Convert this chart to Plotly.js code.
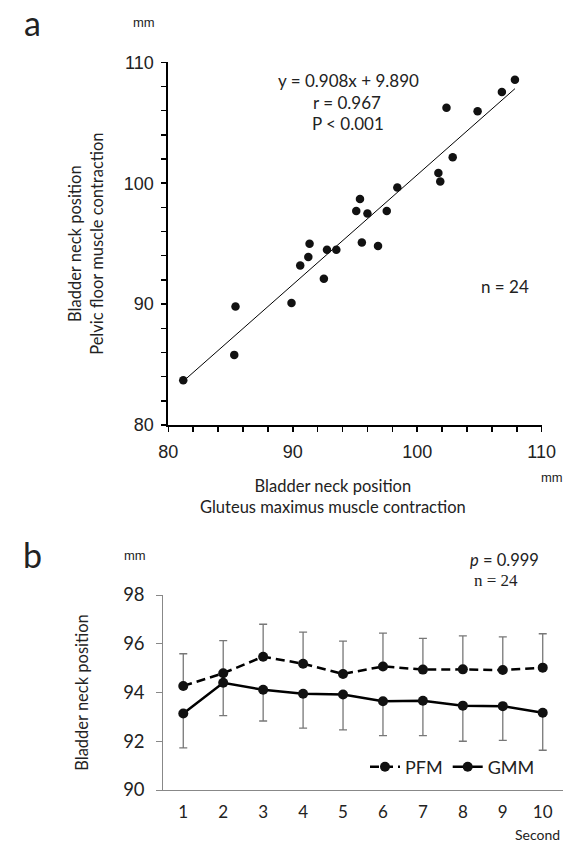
<!DOCTYPE html>
<html><head><meta charset="utf-8">
<script src="https://cdn.plot.ly/plotly-3.0.1.min.js"></script>
<style>html,body{margin:0;padding:0;background:#fff}#chart{width:564px;height:843px}</style>
</head><body><div id="chart"></div>
<script>
// Panel a: bladder neck position (mm)
const gmmContraction = [81.2, 85.3, 85.4, 89.9, 90.6, 91.25, 91.35, 92.5, 92.75, 93.5, 95.1, 95.4, 95.55, 96.0, 96.85, 97.55, 98.4, 101.7, 101.85, 102.35, 102.85, 104.85, 106.8, 107.85];
const pfmContraction = [83.7, 85.8, 89.8, 90.1, 93.2, 93.9, 95.0, 92.1, 94.5, 94.5, 97.7, 98.7, 95.1, 97.5, 94.8, 97.7, 99.65, 100.85, 100.15, 106.25, 102.15, 105.95, 107.55, 108.55];
const regSlope = [0.908];
const regIntercept = [9.890];

// Panel b: bladder neck position over time
const seconds = [1, 2, 3, 4, 5, 6, 7, 8, 9, 10];
const pfmMean = [94.27, 94.79, 95.47, 95.18, 94.76, 95.07, 94.94, 94.95, 94.92, 95.02];
const pfmSD   = [1.32, 1.34, 1.33, 1.30, 1.35, 1.37, 1.28, 1.37, 1.36, 1.39];
const gmmMean = [93.14, 94.40, 94.11, 93.95, 93.92, 93.64, 93.66, 93.46, 93.44, 93.17];
const gmmSD   = [1.41, 1.35, 1.28, 1.41, 1.45, 1.41, 1.43, 1.46, 1.40, 1.54];

const W = 564, H = 843;
const px = v => v / W;
const py = v => 1 - v / H;
const SANS = 'Lato, "Open Sans", sans-serif';
const ARIAL = '"Liberation Sans", Arial, sans-serif';
const SERIF = '"Liberation Serif", "Times New Roman", serif';
const TXT = '#222';

const xMin = Math.min(...gmmContraction), xMax = Math.max(...gmmContraction);
const regX = [xMin, xMax];
const regY = regX.map(x => regSlope[0] * x + regIntercept[0]);
const zeros = seconds.map(() => 0);

const traces = [
  {x: regX, y: regY, xaxis: 'x', yaxis: 'y', mode: 'lines', line: {color: '#000', width: 1}, showlegend: false, hoverinfo: 'skip'},
  {x: gmmContraction, y: pfmContraction, xaxis: 'x', yaxis: 'y', mode: 'markers', marker: {color: '#111', size: 8.5}, showlegend: false},
  {x: seconds, y: pfmMean, xaxis: 'x2', yaxis: 'y2', name: 'PFM', mode: 'lines+markers',
   line: {color: '#000', width: 2.5, dash: '9px,5px'}, marker: {color: '#111', size: 10},
   error_y: {type: 'data', symmetric: false, array: pfmSD, arrayminus: zeros, color: '#777', thickness: 1.3, width: 4}},
  {x: seconds, y: gmmMean, xaxis: 'x2', yaxis: 'y2', name: 'GMM', mode: 'lines+markers',
   line: {color: '#000', width: 2.5}, marker: {color: '#111', size: 10},
   error_y: {type: 'data', symmetric: false, array: zeros, arrayminus: gmmSD, color: '#777', thickness: 1.3, width: 4}}
];

function note(text, x, y, size, family, xanchor) {
  return {text: text, x: px(x), y: py(y), xref: 'paper', yref: 'paper', xanchor: xanchor || 'center', yanchor: 'middle',
          showarrow: false, font: {family: family || SANS, size: size, color: TXT}};
}

const layout = {
  width: W, height: H,
  margin: {l: 0, r: 0, t: 0, b: 0},
  paper_bgcolor: '#fff', plot_bgcolor: 'rgba(0,0,0,0)',
  showlegend: true,
  font: {family: SANS, color: TXT},
  xaxis: {
    domain: [px(168.3), px(541.7)], range: [80, 110], anchor: 'y',
    tick0: 80, dtick: 10, ticks: 'outside', ticklen: 5, tickwidth: 1.5, tickcolor: '#000',
    minor: {dtick: 2, tick0: 80, ticks: 'outside', ticklen: 5, tickwidth: 1.5, tickcolor: '#000', showgrid: false},
    showline: true, linewidth: 2, linecolor: '#000', showgrid: false, zeroline: false,
    tickfont: {family: ARIAL, size: 18, color: TXT}, ticklabelstandoff: 4
  },
  yaxis: {
    domain: [py(425), py(62.3)], range: [80, 110], anchor: 'x',
    tick0: 80, dtick: 10, ticks: 'outside', ticklen: 5, tickwidth: 1.5, tickcolor: '#000',
    minor: {dtick: 2, tick0: 80, ticks: 'outside', ticklen: 5, tickwidth: 1.5, tickcolor: '#000', showgrid: false},
    showline: true, linewidth: 2, linecolor: '#000', showgrid: false, zeroline: false,
    tickfont: {family: ARIAL, size: 18, color: TXT}, ticklabelstandoff: 4,
    title: {text: 'Bladder neck position<br>Pelvic floor muscle contraction', font: {family: SANS, size: 16.5, color: TXT}, standoff: 16}
  },
  xaxis2: {
    domain: [px(163.3), px(562.7)], range: [0.5, 10.5], anchor: 'y2',
    tickvals: seconds, ticks: '', showline: true, linewidth: 1, linecolor: '#888',
    showgrid: false, zeroline: false, tickfont: {family: SANS, size: 17, color: TXT}, ticklabelstandoff: 7
  },
  yaxis2: {
    domain: [py(790), py(595)], range: [90, 98], anchor: 'x2',
    dtick: 2, ticks: 'outside', ticklen: 6, tickwidth: 1, tickcolor: '#888',
    showline: true, linewidth: 1, linecolor: '#888', showgrid: false, zeroline: false,
    tickfont: {family: SANS, size: 18.5, color: TXT}, ticklabelstandoff: 8,
    title: {text: 'Bladder neck position', font: {family: SANS, size: 16.5, color: TXT}, standoff: 30}
  },
  legend: {orientation: 'h', x: px(540), xanchor: 'right', y: py(767), yanchor: 'middle',
    font: {family: SANS, size: 18, color: TXT}, bgcolor: 'rgba(0,0,0,0)', itemwidth: 30, traceorder: 'normal'},
  annotations: [
    note('a', 32, 22, 34),
    note('mm', 144, 22, 13, ARIAL),
    note('y = 0.908x + 9.890', 348, 80, 17),
    note('r = 0.967', 347, 102, 17),
    note('P < 0.001', 348, 124, 17),
    note('n = 24', 505, 286, 17),
    note('mm', 552, 478, 13, ARIAL),
    note('Bladder neck position<br>Gluteus maximus muscle contraction', 333, 496, 16.5),
    note('b', 32, 554, 34),
    note('mm', 135, 555, 13, ARIAL),
    note('<i>p</i> = 0.999', 504, 560, 16.5),
    note('n = 24', 496, 580, 17, SERIF),
    note('Second', 562, 834, 14, SANS, 'right')
  ]
};

Plotly.newPlot('chart', traces, layout, {displayModeBar: false, staticPlot: true});
</script>
</body></html>
